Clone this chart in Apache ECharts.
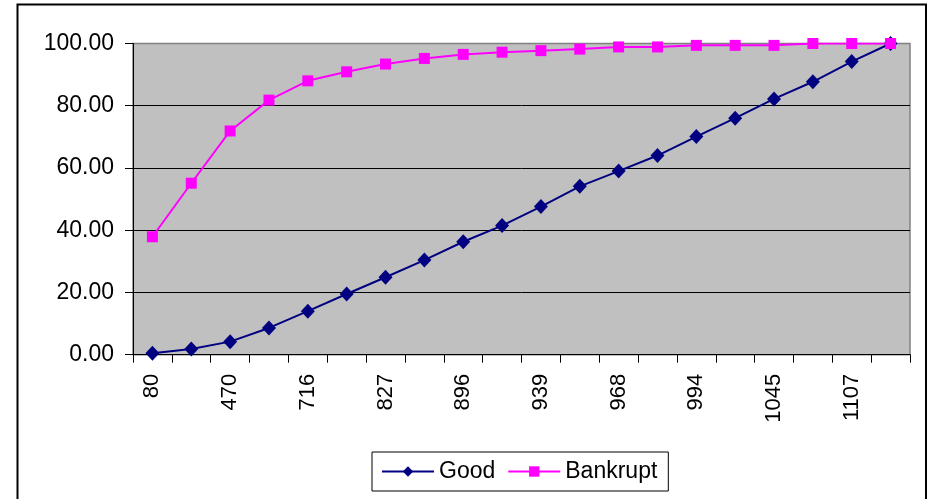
<!DOCTYPE html>
<html>
<head>
<meta charset="utf-8">
<script src="https://cdn.jsdelivr.net/npm/echarts@6/dist/echarts.min.js"></script>
<style>
  html, body { margin: 0; padding: 0; background: #fff; }
  #chart { width: 930px; height: 499px; }
</style>
</head>
<body>
<div id="chart"></div>
<script>
// Score cut-offs (every other one is labelled on the axis)
const scores = ['80', '310', '470', '620', '716', '780', '827', '865', '896', '918',
                '939', '954', '968', '981', '994', '1018', '1045', '1075', '1107', '1150'];

// Cumulative percentage of good accounts at each cut-off
const good = [0.5, 1.8, 4.2, 8.6, 14.0, 19.5, 24.9, 30.4, 36.3, 41.5,
              47.6, 54.1, 59.0, 64.0, 70.1, 76.0, 82.2, 87.7, 94.2, 100.0];

// Cumulative percentage of bankrupt accounts at each cut-off
const bankrupt = [37.9, 55.1, 71.9, 81.8, 88.0, 90.9, 93.4, 95.2, 96.5, 97.2,
                  97.7, 98.2, 98.9, 98.9, 99.4, 99.4, 99.4, 100.0, 100.0, 100.0];

const yTicks = [0, 20, 40, 60, 80, 100];

const FONT = '"Liberation Sans", Arial, sans-serif';

const chart = echarts.init(document.getElementById('chart'), null, { renderer: 'canvas' });

chart.setOption({
  animation: false,
  backgroundColor: '#ffffff',
  textStyle: { fontFamily: FONT, color: '#000' },
  graphic: [{
    type: 'rect',
    shape: { x: 17.5, y: 4.5, width: 908.5, height: 600 },
    style: { fill: 'none', stroke: '#000', lineWidth: 2 },
    z: 100
  }],
  grid: {
    left: 133, right: 20, top: 43.5, bottom: 144.3,
    show: true,
    backgroundColor: '#c0c0c0',
    borderColor: '#808080',
    borderWidth: 1.5
  },
  legend: {
    data: ['Good', 'Bankrupt'],
    left: 372, top: 452,
    orient: 'horizontal',
    borderColor: '#000', borderWidth: 1,
    padding: [8, 11, 8, 9],
    itemWidth: 52, itemHeight: 13, itemGap: 12,
    textStyle: { fontFamily: FONT, fontSize: 23, color: '#000' }
  },
  xAxis: {
    type: 'category',
    data: scores,
    boundaryGap: true,
    axisLine: { show: true, lineStyle: { color: '#000', width: 1 } },
    axisTick: { show: true, interval: 0, length: 8, lineStyle: { color: '#000' } },
    axisLabel: {
      interval: 1, rotate: 90, margin: 19,
      fontFamily: FONT, fontSize: 22, color: '#000'
    },
    splitLine: { show: false }
  },
  yAxis: {
    type: 'value',
    min: yTicks[0], max: yTicks[yTicks.length - 1], interval: 20,
    axisLine: { show: true, lineStyle: { color: '#000', width: 1 } },
    axisTick: { show: true, length: 8, lineStyle: { color: '#000' } },
    axisLabel: {
      margin: 19, fontFamily: FONT, fontSize: 23, color: '#000',
      formatter: v => v.toFixed(2)
    },
    splitLine: {
      show: true,
      lineStyle: { color: ['#000', '#000', '#000', '#000', '#000', '#808080'], width: 1 }
    }
  },
  series: [
    {
      name: 'Good',
      type: 'line',
      data: good,
      symbol: 'diamond',
      symbolSize: [14, 15],
      itemStyle: { color: '#000080' },
      lineStyle: { color: '#000080', width: 2 },
      z: 3
    },
    {
      name: 'Bankrupt',
      type: 'line',
      data: bankrupt,
      symbol: 'rect',
      symbolSize: 11,
      itemStyle: { color: '#ff00ff' },
      lineStyle: { color: '#ff00ff', width: 2 },
      z: 4
    }
  ]
});
</script>
</body>
</html>
